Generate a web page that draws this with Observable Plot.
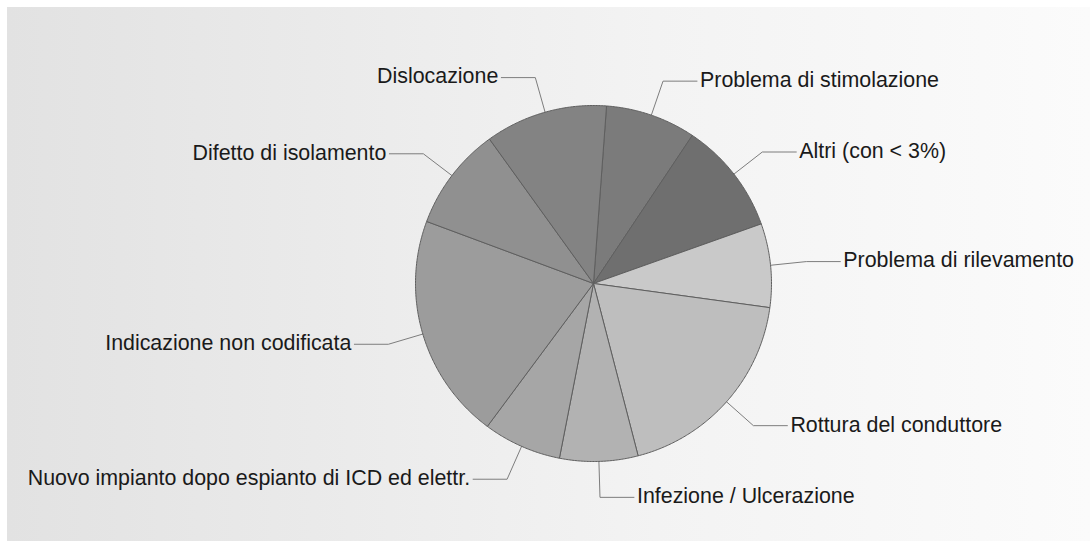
<!DOCTYPE html>
<html>
<head>
<meta charset="utf-8">
<script src="https://cdn.jsdelivr.net/npm/d3@7"></script>
<script src="https://cdn.jsdelivr.net/npm/@observablehq/plot@0.6"></script>
<style>
  html, body { margin: 0; padding: 0; background: #ffffff; }
  #wrap { position: relative; width: 1090px; height: 554px; overflow: hidden; }
  #panel { position: absolute; left: 7px; top: 7px; width: 1083px; height: 534px;
           background: linear-gradient(to right, #e2e2e2, #f3f3f3 60%, #fbfbfb); }
  #chart { position: absolute; left: 0; top: 0; }
</style>
</head>
<body>
<div id="wrap"><div id="panel"></div><div id="chart"></div></div>
<script>
// ---- data (shares in %, clockwise from the first slice) ----
const categories = [
  "Problema di stimolazione",
  "Altri (con < 3%)",
  "Problema di rilevamento",
  "Rottura del conduttore",
  "Infezione / Ulcerazione",
  "Nuovo impianto dopo espianto di ICD ed elettr.",
  "Indicazione non codificata",
  "Difetto di isolamento",
  "Dislocazione"
];
const shares = [8.2, 10.2, 7.6, 18.8, 7.1, 7.1, 20.5, 9.4, 11.1];
const colors = ["#7b7b7b", "#6f6f6f", "#c9c9c9", "#bebebe", "#b2b2b2", "#a6a6a6", "#9c9c9c", "#909090", "#838383"];
const startDeg = 4.2; // angle of first slice start, clockwise from 12 o'clock

// ---- geometry derived from data ----
const total = d3.sum(shares);
const slices = [];
const leaders = [];
const labels = [];
let acc = 0;
const toRad = Math.PI / 180;
const elbowR = 1.202, armLen = 0.191;
categories.forEach((cat, i) => {
  const a0 = startDeg + acc / total * 360;
  acc += shares[i];
  const a1 = startDeg + acc / total * 360;
  // polygon: center, arc, center
  slices.push({cat, x: 0, y: 0});
  const n = Math.max(2, Math.ceil((a1 - a0) / 0.5));
  for (let k = 0; k <= n; k++) {
    const a = (a0 + (a1 - a0) * k / n) * toRad;
    slices.push({cat, x: Math.sin(a), y: Math.cos(a)});
  }
  slices.push({cat, x: 0, y: 0});
  // leader line
  const am = (a0 + a1) / 2 * toRad;
  const right = Math.sin(am) >= 0;
  const ex = elbowR * Math.sin(am), ey = elbowR * Math.cos(am);
  const tx = ex + (right ? armLen : -armLen);
  leaders.push({cat, x: Math.sin(am), y: Math.cos(am)});
  leaders.push({cat, x: ex, y: ey});
  leaders.push({cat, x: tx, y: ey});
  labels.push({cat, x: tx, y: ey, right});
});

const cx = 593, cy = 283, r = 178;
const font = "'Liberation Sans', Arial, Helvetica, sans-serif";

const plot = Plot.plot({
  width: 1090,
  height: 554,
  margin: 0,
  style: {background: "transparent", fontFamily: font},
  x: {domain: [-1, 1], range: [cx - r, cx + r], axis: null},
  y: {domain: [-1, 1], range: [cy + r, cy - r], axis: null},
  color: {domain: categories, range: colors},
  marks: [
    Plot.line(leaders, {x: "x", y: "y", z: "cat", stroke: "#7d7d7d", strokeWidth: 1, curve: "linear"}),
    Plot.line(slices, {x: "x", y: "y", z: "cat", fill: "cat", stroke: "#5f5f5f", strokeWidth: 1, strokeLinejoin: "round", curve: "linear"}),
    Plot.text(labels.filter(d => d.right), {x: "x", y: "y", text: "cat", textAnchor: "start", dx: 3, dy: -1, fontSize: 21.4, fill: "#1a1a1a", fontFamily: font}),
    Plot.text(labels.filter(d => !d.right), {x: "x", y: "y", text: "cat", textAnchor: "end", dx: -3, dy: -1, fontSize: 21.4, fill: "#1a1a1a", fontFamily: font})
  ]
});
document.getElementById("chart").appendChild(plot);
</script>
</body>
</html>
